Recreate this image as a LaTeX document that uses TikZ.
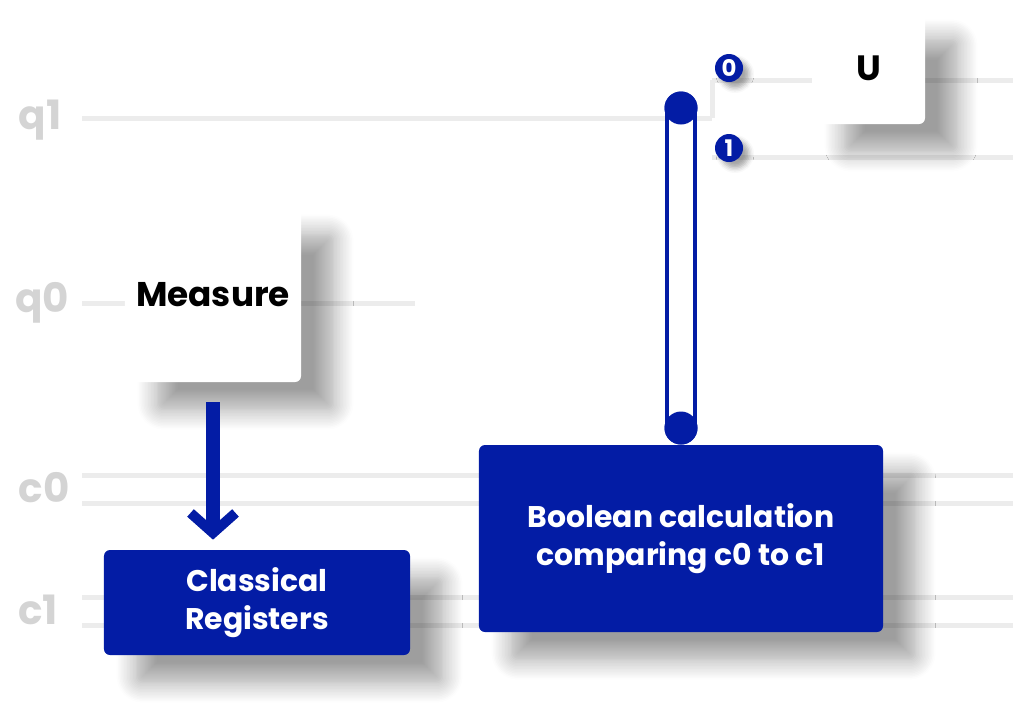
\documentclass[tikz,border=0pt]{standalone}
\usepackage{fontspec}
\setmainfont{Poppins}
\usetikzlibrary{positioning,shadows.blur,arrows.meta}
\definecolor{qblue}{RGB}{3,28,165}
\definecolor{wiregray}{RGB}{236,236,236}

\begin{document}
\begin{tikzpicture}
  [x=0.2mm,y=-0.2mm,
   every node/.style={font=\bfseries},
   gatebox/.style={rectangle,rounded corners=1.2mm,fill=white,
     blur shadow={shadow xshift=6.5mm,shadow yshift=-5.5mm,shadow blur radius=4mm,
       shadow blur steps=14,shadow opacity=38}},
   regbox/.style={gatebox,fill=qblue,text=white,align=center,font=\bfseries\fontsize{17}{22}\selectfont},
   badge/.style={circle,fill=qblue,text=white,inner sep=0pt,minimum size=5.6mm,font=\bfseries\fontsize{13}{13}\selectfont,
     blur shadow={shadow xshift=1.2mm,shadow yshift=-1.2mm,shadow blur radius=1mm,shadow opacity=35}},
   ctrl/.style={circle,fill=qblue,inner sep=0pt,minimum size=6.6mm},
   pipe/.style={draw=qblue,double=white,double distance=4.8mm,line width=0.8mm},
   wire/.style={wiregray,line width=1mm},
   wirelabel/.style={text=black!17,font=\bfseries\fontsize{23}{23}\selectfont},
   flow/.style={qblue,line width=2.8mm,shorten <=4mm,shorten >=2mm,
     -{Straight Barb[length=4mm,width=9mm,line width=2mm]}}]
  \useasboundingbox (0,0) rectangle (1024,709);

  % wires
  \foreach \y/\xa/\xb in {118/82/712,303/82/415,475/82/1013,503/82/1013,
                          597/82/1013,625/82/1013,80/712/1013,157/712/1013}
    \draw[wire] (\xa,\y) -- (\xb,\y);
  \draw[wire] (712,80) -- (712,118);

  % wire names
  \node[wirelabel] (q1) at (40,120) {q1};
  \node[wirelabel] (q0) at (42,303) {q0};
  \node[wirelabel] (c0) at (44,488) {c0};
  \node[wirelabel] (c1) at (38,610) {c1};

  % gates
  \node[gatebox,minimum width=35.2mm,minimum height=35mm,font=\bfseries\fontsize{19.5}{20}\selectfont]
    (measure) at (213,294.5) {Measure};
  \node[gatebox,minimum width=22.6mm,minimum height=22.4mm,font=\bfseries\fontsize{20}{20}\selectfont]
    (ugate) at (868.5,68) {U};
  \node[regbox,minimum width=61.2mm,minimum height=21mm] (classical) at (257,602.5) {Classical\\Registers};
  \node[regbox,minimum width=80.8mm,minimum height=37.4mm] (boolean) at (681,538.5) {Boolean calculation\\comparing c0 to c1};

  % measurement to registers
  \draw[flow] (measure.south) -- (measure.south |- classical.north);

  % classical control
  \node[ctrl] (ctrltop) at (681,108) {};
  \node[ctrl] (ctrlbot) at (681,428) {};
  \draw[pipe] (ctrltop.center) -- (ctrlbot.center);
  \node[ctrl] at (ctrltop) {};
  \node[ctrl] at (ctrlbot) {};

  \node[badge] (zero) at (729,68) {0};
  \node[badge] (one) at (729,148) {1};
\end{tikzpicture}
\end{document}
